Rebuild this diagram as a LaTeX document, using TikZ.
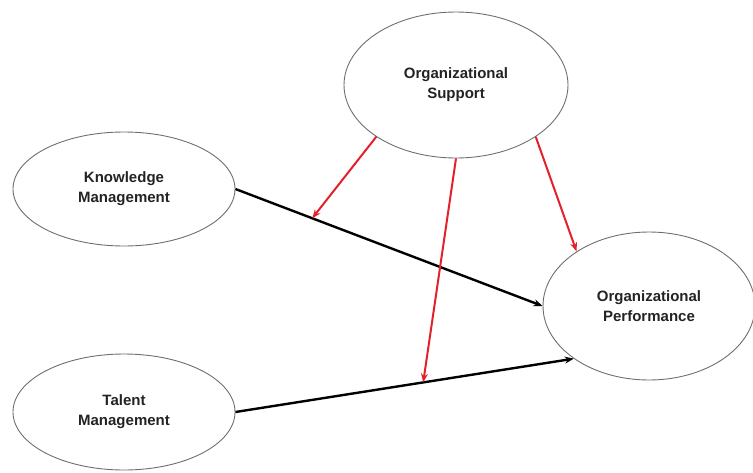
\documentclass[tikz,border=0pt]{standalone}
\usepackage{fontspec}
\setmainfont{Liberation Sans}
\usetikzlibrary{shapes.geometric,arrows.meta,calc}
\definecolor{redarrow}{RGB}{228,32,42}
\definecolor{rim}{RGB}{110,110,110}
\definecolor{txt}{RGB}{35,35,35}
\begin{document}
\begin{tikzpicture}[x=1pt,y=-1pt,
  construct/.style={ellipse, draw=rim, line width=0.9pt, inner sep=0pt,
    align=center, text=txt, font=\fontsize{15}{20}\selectfont\bfseries},
  mainpath/.style={line width=2.4pt, black, -{Stealth[length=9pt,width=7pt]}},
  modpath/.style={line width=2pt, redarrow, -{Stealth[length=9pt,width=7pt]}}]
\useasboundingbox (0,0) rectangle (753,472);
\node[construct, minimum width=224pt, minimum height=146pt] (os) at (456,85) {Organizational\\Support};
\node[construct, minimum width=222pt, minimum height=114pt] (km) at (124,189) {Knowledge\\Management};
\node[construct, minimum width=222pt, minimum height=116pt] (tm) at (124,412) {Talent\\Management};
\node[construct, minimum width=212pt, minimum height=148pt] (op) at (649,306) {Organizational\\Performance};
\draw[mainpath] (km.east) -- (op.west);
\draw[mainpath] (tm.east) -- (op.215);
\coordinate (k1) at ($(km.east)!0.25!(op.west)$);
\coordinate (t1) at ($(tm.east)!0.555!(op.215)$);
\draw[modpath] (os.213) -- (k1);
\draw[modpath] (os.south) -- (t1);
\draw[modpath] (os.327) -- (op.143);
\end{tikzpicture}
\end{document}
